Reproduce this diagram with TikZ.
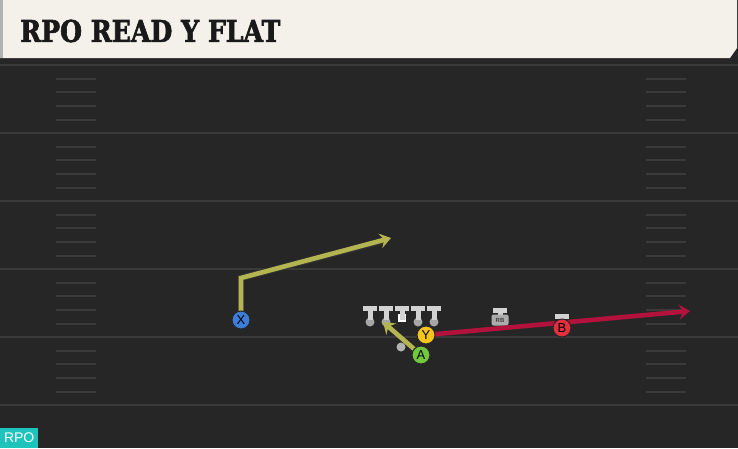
\documentclass[tikz,border=0pt]{standalone}
\usepackage{fontspec}
\setmainfont{Liberation Sans}
\newfontfamily\titlefont{DejaVu Serif}[FakeStretch=0.84, FakeBold=2]
\usetikzlibrary{arrows.meta, positioning}

\definecolor{fieldbg}{HTML}{262626}
\definecolor{fieldline}{HTML}{3A3A3A}
\definecolor{titlebg}{HTML}{F4F1EA}
\definecolor{routeolive}{HTML}{B4B450}
\definecolor{routered}{HTML}{B3123C}
\definecolor{xblue}{HTML}{3D7DD8}
\definecolor{yyellow}{HTML}{F4C41C}
\definecolor{agreen}{HTML}{72C83C}
\definecolor{bred}{HTML}{E2303C}
\definecolor{rpoteal}{HTML}{1EC4BC}

\begin{document}
\begin{tikzpicture}[
  x=1pt, y=-1pt,
  player/.style={
    circle,
    draw=black!85,
    line width=1pt,
    minimum size=18pt,
    inner sep=0pt,
    font=\fontsize{13}{13}\selectfont
  },
  olman/.style={circle, fill=gray!70, minimum size=9pt, inner sep=0pt},
  route/.style={line width=4.6pt, line join=miter, -{Stealth[length=11pt, width=15pt, inset=4pt]}},
  routeshadow/.style={line width=6.4pt, black!80, line join=miter},
  yard/.style={fieldline, line width=2pt},
  hash/.style={fieldline, line width=1.6pt},
  tee/.pic={
    \fill[gray!35] (-7,-16) rectangle (7,-11);
    \fill[gray!35] (-2.5,-11) rectangle (2.5,-2);
  }
]
\useasboundingbox (0,0) rectangle (738,448);

% field
\fill[fieldbg] (0,0) rectangle (738,448);
\fill[black!85] (0,56) rectangle (738,64);
\foreach \yy in {65,133,201,269,337,405}
  \draw[yard] (0,\yy) -- (738,\yy);
\foreach \yy in {65,133,201,269,337}
  \foreach \dd in {14,27,41,55} {
    \draw[hash] (56,\yy+\dd) -- (96,\yy+\dd);
    \draw[hash] (646,\yy+\dd) -- (686,\yy+\dd);
  }

% title bar
\fill[titlebg] (0,0) -- (737,0) -- (737,48) -- (730,58) -- (0,58) -- cycle;
\fill[gray!60] (0,0) rectangle (3,58);
\node[anchor=west, font=\titlefont\bfseries\fontsize{30}{30}\selectfont, text=black!90, inner sep=0pt] (title) at (20,31) {RPO READ Y FLAT};

% offensive line
\node[olman] (lt) at (370,322) {};
\node[olman] (lg) at (386,322) {};
\node[fill=white, minimum size=8pt, inner sep=0pt] (c) at (402,318) {};
\node[olman] (rg) at (418,322) {};
\node[olman] (rt) at (434,322) {};
\pic at (370,322) {tee};
\pic at (386,322) {tee};
\pic at (402,322) {tee};
\pic at (418,322) {tee};
\pic at (434,322) {tee};
\node[olman, fill=gray!60] (qb) at (401,347) {};

% defenders
\pic at (500,324) {tee};
\node[fill=gray!65, rounded corners=2pt, minimum width=17pt, minimum height=11pt, inner sep=0pt, font=\fontsize{6}{6}\selectfont\bfseries, text=black!75] (rb) at (500,320) {RB};
\pic at (562,330) {tee};

% route ends
\coordinate (xbreak) at (241,278);
\coordinate (xend) at (391,238);
\coordinate (yend) at (690,311);
\coordinate (aend) at (383,322);

% routes
\draw[routeshadow] (241,320) -- (xbreak) -- (386,240);
\draw[route, routeolive] (241,320) -- (xbreak) -- (xend);
\draw[route, routered] (426,335) -- (yend);
\draw[route, routeolive] (421,355) -- (aend);

% skill players
\node[player, fill=xblue] (x) at (241,320) {X};
\node[player, fill=yyellow] (y) at (426,335) {Y};
\node[player, fill=agreen] (a) at (421,355) {A};
\node[player, fill=bred] (b) at (562,328) {B};

% tag
\node[fill=rpoteal, text=white, anchor=south west, minimum width=38pt, minimum height=20pt, inner sep=0pt, font=\fontsize{14}{14}\selectfont] (tag) at (0,448) {RPO};

\end{tikzpicture}
\end{document}
